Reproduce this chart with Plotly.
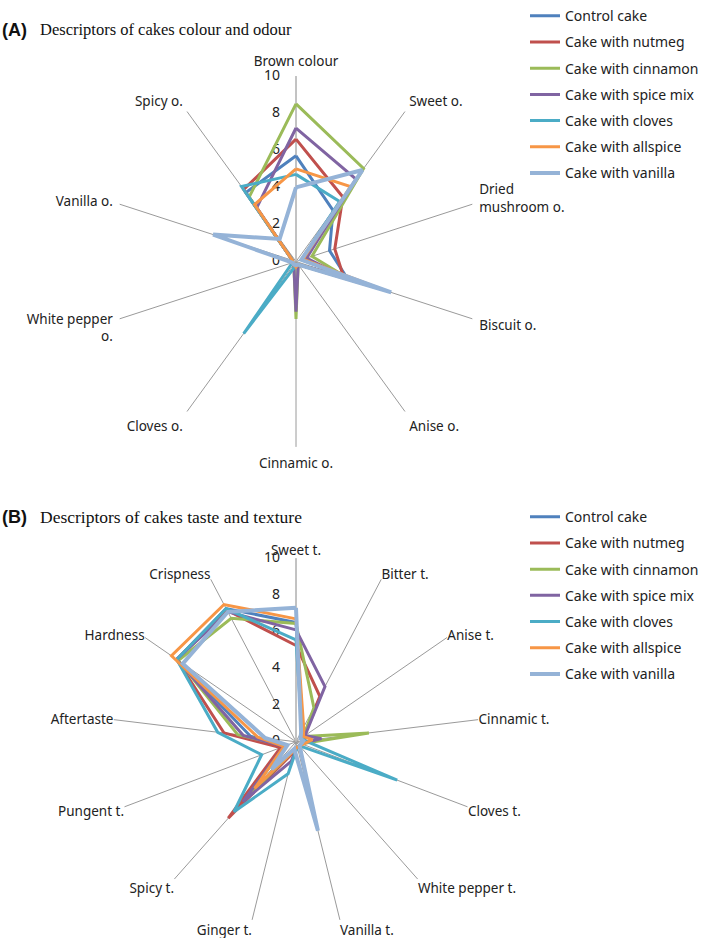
import plotly.graph_objects as go

# ---------------- Data: (A) colour and odour ----------------
odour_axes = ["Brown colour", "Sweet o.", "Dried<br>mushroom o.", "Biscuit o.", "Anise o.",
              "Cinnamic o.", "Cloves o.", "White pepper<br>o.", "Vanilla o.", "Spicy o."]
odour_control = [5.7, 3.4, 1.9, 2.9, 0.2, 0.2, 0.2, 0.2, 0.2, 4.6]
odour_nutmeg = [6.6, 4.3, 2.2, 2.7, 0.2, 0.2, 0.2, 0.2, 0.2, 4.8]
odour_cinnamon = [8.5, 6.2, 0.9, 3.0, 0.2, 3.1, 0.2, 0.2, 0.2, 4.3]
odour_spicemix = [7.2, 5.5, 0.6, 2.8, 0.2, 2.7, 0.2, 0.2, 0.2, 3.6]
odour_cloves = [4.7, 4.0, 0.3, 4.5, 0.2, 0.2, 4.8, 0.2, 0.2, 5.0]
odour_allspice = [5.0, 5.0, 0.4, 5.0, 0.2, 0.3, 0.2, 0.2, 0.2, 3.8]
odour_vanilla = [4.0, 6.1, 0.3, 5.4, 0.2, 0.2, 0.2, 0.2, 4.7, 1.5]

# ---------------- Data: (B) taste and texture ----------------
taste_axes = ["Sweet t.", "Bitter t.", "Anise t.", "Cinnamic t.", "Cloves t.", "White pepper t.",
              "Vanilla t.", "Ginger t.", "Spicy t.", "Pungent t.", "Aftertaste", "Hardness", "Crispness"]
taste_control = [6.5, 0.8, 0.4, 0.5, 0.3, 0.3, 0.3, 0.5, 4.5, 0.6, 2.5, 7.9, 8.2]
taste_nutmeg = [5.25, 2.8, 0.5, 0.5, 0.3, 0.3, 0.3, 0.6, 5.57, 0.9, 3.95, 7.9, 8.1]
taste_cinnamon = [6.45, 2.1, 0.5, 4.0, 0.3, 0.3, 0.3, 0.5, 4.0, 0.6, 3.2, 7.8, 7.6]
taste_spicemix = [6.1, 3.4, 0.6, 1.4, 0.3, 0.3, 0.3, 1.1, 4.35, 0.7, 2.9, 7.9, 8.0]
taste_cloves = [5.55, 0.7, 0.4, 0.5, 5.9, 0.3, 0.3, 1.8, 5.1, 2.0, 4.3, 7.9, 8.2]
taste_allspice = [6.7, 0.9, 0.5, 0.9, 0.4, 0.3, 0.3, 0.5, 3.4, 0.7, 2.1, 8.25, 8.45]
taste_vanilla = [7.3, 0.6, 0.3, 0.4, 0.3, 0.3, 5.0, 0.4, 2.0, 0.5, 1.7, 7.5, 8.0]

radial_ticks = [0, 2, 4, 6, 8, 10]

series_names = ["Control cake", "Cake with nutmeg", "Cake with cinnamon", "Cake with spice mix",
                "Cake with cloves", "Cake with allspice", "Cake with vanilla"]
series_colors = ["#4F81BD", "#C0504D", "#9BBB59", "#8064A2", "#4BACC6", "#F79646", "#95B3D7"]
series_widths = [3, 3, 3, 3, 3, 3, 4]

odour_series = [odour_control, odour_nutmeg, odour_cinnamon, odour_spicemix,
                odour_cloves, odour_allspice, odour_vanilla]
taste_series = [taste_control, taste_nutmeg, taste_cinnamon, taste_spicemix,
                taste_cloves, taste_allspice, taste_vanilla]

W, H = 709, 938
LABEL_FONT = "Noto Sans"
PAD = "<span style='color:rgba(0,0,0,0)'>00</span>"

fig = go.Figure()

# radial scale numbers (drawn first so the data lines sit on top of them)
for sp, axes in (("polar", odour_axes), ("polar2", taste_axes)):
    fig.add_trace(go.Scatterpolar(
        r=radial_ticks, theta=[axes[0]] * len(radial_ticks), mode="text",
        text=[str(t) + PAD for t in radial_ticks], textposition="middle left",
        textfont=dict(family=LABEL_FONT, size=14, color="#222"),
        subplot=sp, showlegend=False, hoverinfo="skip", cliponaxis=False))

for name, col, lw, vals in zip(series_names, series_colors, series_widths, odour_series):
    fig.add_trace(go.Scatterpolar(
        r=vals + vals[:1], theta=odour_axes + odour_axes[:1], mode="lines",
        name=name, line=dict(color=col, width=lw), subplot="polar",
        legend="legend", legendgroup="a" + name))

for name, col, lw, vals in zip(series_names, series_colors, series_widths, taste_series):
    fig.add_trace(go.Scatterpolar(
        r=vals + vals[:1], theta=taste_axes + taste_axes[:1], mode="lines",
        name=name, line=dict(color=col, width=lw), subplot="polar2",
        legend="legend2", legendgroup="b" + name))


def polar_cfg(cx, cy, rad, cats, tlen):
    return dict(
        domain=dict(x=[(cx - rad) / W, (cx + rad) / W],
                    y=[(H - cy - rad) / H, (H - cy + rad) / H]),
        bgcolor="white",
        radialaxis=dict(range=[0, 10], tickvals=radial_ticks, angle=90,
                        showgrid=False, showline=True, showticklabels=False,
                        linecolor="#BFBFBF", linewidth=1.5, ticks="",
                        layer="below traces"),
        angularaxis=dict(type="category", categoryarray=cats, rotation=90,
                         direction="clockwise", showline=False, showgrid=True,
                         gridcolor="#9A9A9A", gridwidth=0.8,
                         ticks="outside" if tlen else "", ticklen=max(tlen, 1),
                         tickcolor="rgba(0,0,0,0)",
                         tickfont=dict(family=LABEL_FONT, size=13.5, color="#222"),
                         layer="below traces"),
    )


legend_common = dict(xanchor="left", yanchor="top",
                     font=dict(family=LABEL_FONT, size=14, color="#222"),
                     itemwidth=30, tracegroupgap=5, bgcolor="rgba(0,0,0,0)")

fig.update_layout(
    width=W, height=H, autosize=False,
    margin=dict(l=0, r=0, t=0, b=0),
    paper_bgcolor="white",
    polar=polar_cfg(296, 252, 188, odour_axes, 4),
    polar2=polar_cfg(296, 739, 186, taste_axes, 0),
    legend=dict(x=525 / W, y=1 + 13 / H, **legend_common),
    legend2=dict(x=525 / W, y=1 - 495 / H, **legend_common),
    showlegend=True,
)

titles = [("(A)", "Descriptors of cakes colour and odour", 17, 16.5),
          ("(B)", "Descriptors of cakes taste and texture", 511, 17.5)]
for tag, text, ypx, fs in titles:
    fig.add_annotation(x=0, y=1 - ypx / H, xref="paper", yref="paper", xanchor="left",
                       yanchor="middle", text="<b>" + tag + "</b>", showarrow=False,
                       font=dict(family="Liberation Sans", size=18, color="#111"))
    fig.add_annotation(x=38 / W, y=1 - ypx / H, xref="paper", yref="paper", xanchor="left",
                       yanchor="middle", text=text, showarrow=False,
                       font=dict(family="Liberation Serif", size=fs, color="#111"))

fig.write_html("out.html", config={"displayModeBar": False},
               post_script="document.body.style.margin='0';document.body.style.overflow='hidden';")
